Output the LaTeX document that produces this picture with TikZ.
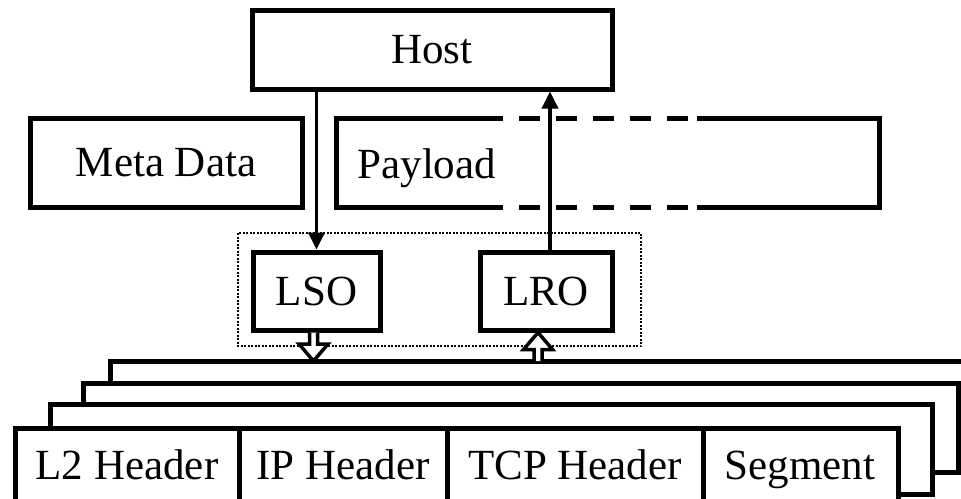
\documentclass[tikz,border=0pt]{standalone}
\usepackage{fontspec}
\setmainfont{Liberation Serif}
\usetikzlibrary{arrows.meta, positioning}

\tikzset{
  box/.style={draw, line width=5pt, fill=white, inner sep=0pt, font=\fontsize{43}{50}\selectfont},
  frame/.style={draw, line width=5pt, fill=white},
  lbl/.style={font=\fontsize{43}{50}\selectfont, anchor=base},
  feed/.style={line width=3.5pt, -{Triangle[length=17pt, width=16pt]}},
  hollow/.style={draw, line width=3.5pt, fill=white, line join=miter},
}

\begin{document}
\begin{tikzpicture}[x=1pt, y=-1pt]
    \useasboundingbox (0,0) rectangle (961,498);
    \clip (0,0) rectangle (961,498);
    % stacked frames, back to front
    \foreach \l/\t/\r/\b in {110/361/994/448, 83/383/958/472, 50/404/932/494, 15/428/898/518}
        \draw[frame] (\l,\t) rectangle (\r,\b);
    \coordinate (stack) at (0,361);
    \foreach \x in {239, 447, 703}
        \draw[line width=5pt] (\x,428) -- (\x,518);
    \node[lbl] (l2) at (127,479) {L2 Header};
    \node[lbl] (ip) at (343,479) {IP Header};
    \node[lbl] (tcp) at (575,479) {TCP Header};
    \node[lbl] (seg) at (800,479) {Segment};

    \node[box, minimum width=360pt, minimum height=79pt] (host) at (432,49.5) {Host};
    \node[box, minimum width=272pt, minimum height=89pt] (meta) at (166,162.5) {Meta Data};
    % payload, dashed in the middle
    \draw[line width=5pt] (482,118) -- (336,118) -- (336,207) -- (482,207);
    \draw[line width=5pt] (697,118) -- (879,118) -- (879,207) -- (697,207);
    \draw[line width=5pt, dash pattern=on 20.5pt off 16.5pt] (482,118) -- (697,118) (482,207) -- (697,207);
    \node[lbl, anchor=base west] (pay) at (354,178) {Payload};

    \draw[dash pattern=on 2pt off 1.5pt, line width=1.5pt] (238,233) rectangle (641,346);
    \node[box, minimum width=127pt, minimum height=78pt] (lso) at (316.5,291) {LSO};
    \node[box, minimum width=132pt, minimum height=78pt] (lro) at (546,291) {LRO};

    \draw[feed] (host.south -| lso.north) -- (lso.north);
    \draw[feed] ([xshift=4pt]lro.north) -- ([xshift=4pt]lro.north |- host.south);

    % hollow arrows to and from the frames
    \coordinate (a) at ([xshift=-3pt]lso.south);
    \coordinate (at) at (a |- stack);
    \draw[hollow] ([xshift=-4pt]a) -- ([xshift=-4pt, yshift=17pt]at) -- ([xshift=-14.5pt, yshift=17pt]at)
        -- (at) -- ([xshift=14.5pt, yshift=17pt]at) -- ([xshift=4pt, yshift=17pt]at) -- ([xshift=4pt]a);
    \coordinate (bt) at ([xshift=-8pt]lro.south);
    \coordinate (b) at (bt |- stack);
    \draw[hollow] ([xshift=-4pt]b) -- ([xshift=-4pt, yshift=-17pt]bt) -- ([xshift=-14.5pt, yshift=-17pt]bt)
        -- (bt) -- ([xshift=14.5pt, yshift=-17pt]bt) -- ([xshift=4pt, yshift=-17pt]bt) -- ([xshift=4pt]b);
\end{tikzpicture}
\end{document}
